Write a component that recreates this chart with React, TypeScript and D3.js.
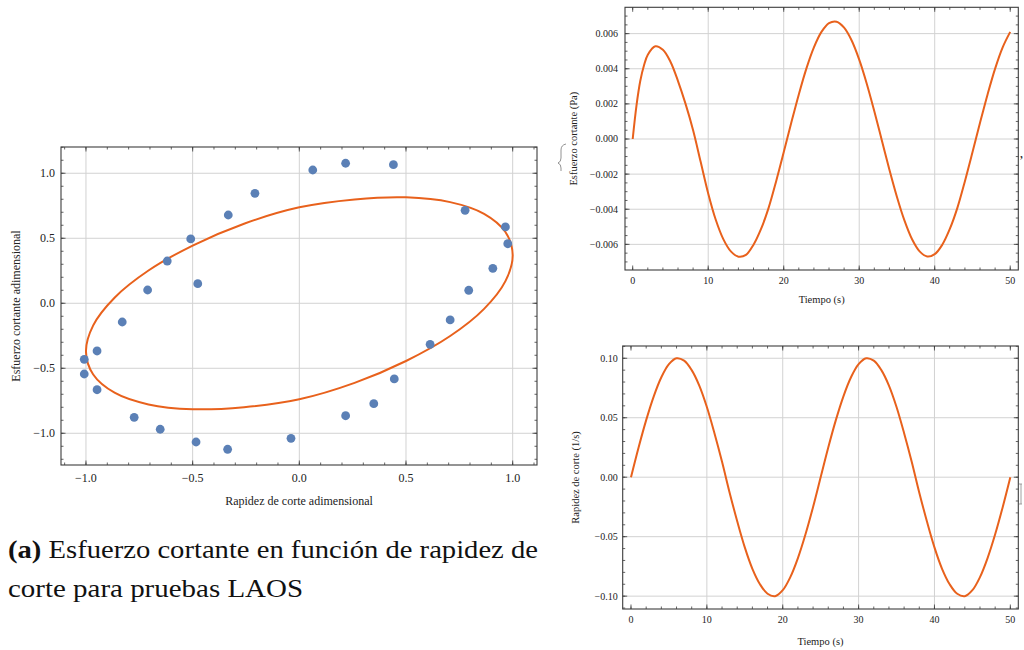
import React from 'react';
import * as d3 from 'd3';

// ---- left panel: normalised stress vs normalised shear rate ----
const dotX = [-1.008, -1.008, -0.948, -0.948, -0.830, -0.774, -0.711, -0.652, -0.619, -0.509, -0.484, -0.476, -0.336, -0.333, -0.208, -0.039, 0.063, 0.217, 0.217, 0.349, 0.441, 0.445, 0.613, 0.707, 0.777, 0.794, 0.907, 0.966, 0.977];
const dotY = [-0.431, -0.544, -0.367, -0.665, -0.144, -0.877, 0.102, -0.969, 0.325, 0.495, -1.067, 0.151, -1.123, 0.679, 0.846, -1.039, 1.025, 1.077, -0.865, -0.772, 1.066, -0.582, -0.316, -0.128, 0.715, 0.100, 0.269, 0.587, 0.458];

// closed orange loop, points read around the curve
const loopX = [1.0, 0.966, 0.866, 0.707, 0.5, 0.259, 0.0, -0.259, -0.5, -0.707, -0.866, -0.966, -1.0, -0.966, -0.866, -0.707, -0.5, -0.259, 0.0, 0.259, 0.5, 0.707, 0.866, 0.966];
const loopY = [0.372, 0.548, 0.688, 0.778, 0.815, 0.799, 0.738, 0.612, 0.444, 0.252, 0.043, -0.17, -0.372, -0.548, -0.688, -0.778, -0.815, -0.799, -0.738, -0.612, -0.444, -0.252, -0.043, 0.17];

const leftXTicks = [-1, -0.5, 0, 0.5, 1];
const leftYTicks = [-1, -0.5, 0, 0.5, 1];

// ---- right panels: time series ----
const stressT = [0, 0.5, 1, 1.5, 2, 3, 4, 5, 6, 7, 8, 9, 10, 11, 12, 13, 14, 15, 16, 17, 18, 19, 20, 21, 22, 23, 24, 25, 26, 27, 28, 29, 30, 31, 32, 33, 34, 35, 36, 37, 38, 39, 40, 41, 42, 43, 44, 45, 46, 47, 48, 49, 50];
const stressPa = [0, 0.0019, 0.0033, 0.0042, 0.0048, 0.00528, 0.00508, 0.0044, 0.0033, 0.0020, 0.0005, -0.0013, -0.0031, -0.0046, -0.0057, -0.0064, -0.0067, -0.0066, -0.00602, -0.00512, -0.00392, -0.0024, -0.00076, 0.00092, 0.00254, 0.00401, 0.00522, 0.0061, 0.0066, 0.00668, 0.00634, 0.00561, 0.00452, 0.00315, 0.00158, -0.00008, -0.00175, -0.0033, -0.00465, -0.00571, -0.0064, -0.00669, -0.00656, -0.00602, -0.00512, -0.00392, -0.0024, -0.00076, 0.00092, 0.00254, 0.00401, 0.00522, 0.0061];

const rateT = [0, 1, 2, 3, 4, 5, 6, 7, 8, 9, 10, 11, 12, 13, 14, 15, 16, 17, 18, 19, 20, 21, 22, 23, 24, 25, 26, 27, 28, 29, 30, 31, 32, 33, 34, 35, 36, 37, 38, 39, 40, 41, 42, 43, 44, 45, 46, 47, 48, 49, 50];
const shearRate = [0, 0.025, 0.048, 0.068, 0.084, 0.095, 0.100, 0.098, 0.090, 0.077, 0.059, 0.037, 0.013, -0.013, -0.037, -0.059, -0.077, -0.090, -0.098, -0.100, -0.095, -0.084, -0.068, -0.048, -0.025, 0, 0.025, 0.048, 0.068, 0.084, 0.095, 0.100, 0.098, 0.090, 0.077, 0.059, 0.037, 0.013, -0.013, -0.037, -0.059, -0.077, -0.090, -0.098, -0.100, -0.095, -0.084, -0.068, -0.048, -0.025, 0];

const timeTicks = [0, 10, 20, 30, 40, 50];
const timeGrid = [10, 20, 30, 40];
const stressTicks = [-0.006, -0.004, -0.002, 0, 0.002, 0.004, 0.006];
const rateTicks = [-0.1, -0.05, 0, 0.05, 0.1];

const SERIF = '"Liberation Serif", "Times New Roman", serif';
const ORANGE = '#e8611c';
const BLUE = '#5b80b6';
const FRAME = '#3c3c3c';
const GRID = '#d2d2d2';

const minus = (s: string) => s.replace('-', '\u2212');

type Scale = d3.ScaleLinear<number, number>;

function Frame(props: {
  x: Scale; y: Scale;
  xTicks: number[]; yTicks: number[];
  xGrid: number[]; yGrid: number[];
  xMinor: number[]; yMinor: number[];
  xFmt: (v: number) => string; yFmt: (v: number) => string;
  fontSize: number; titleSize: number;
  xTitle: string; yTitle: string;
  xLabelDy: number; xTitleDy: number; yTitleX: number; yLabelGap: number;
  children?: React.ReactNode;
}) {
  const { x, y } = props;
  const [x0, x1] = x.range();
  const [y0, y1] = y.range(); // y0 bottom, y1 top
  const maj = 4.5, mnr = 2.5;
  return (
    <g fontFamily={SERIF} fill="#222">
      {props.xGrid.map(v => (
        <line key={'gx' + v} x1={x(v)} x2={x(v)} y1={y1} y2={y0} stroke={GRID} strokeWidth={1} />
      ))}
      {props.yGrid.map(v => (
        <line key={'gy' + v} x1={x0} x2={x1} y1={y(v)} y2={y(v)} stroke={GRID} strokeWidth={1} />
      ))}
      {props.children}
      <rect x={x0} y={y1} width={x1 - x0} height={y0 - y1} fill="none" stroke={FRAME} strokeWidth={1.1} />
      <g stroke={FRAME} strokeWidth={0.8}>
        {props.xMinor.map((v, i) => (
          <g key={'xm' + i}>
            <line x1={x(v)} x2={x(v)} y1={y0} y2={y0 - mnr} />
            <line x1={x(v)} x2={x(v)} y1={y1} y2={y1 + mnr} />
          </g>
        ))}
        {props.xTicks.map((v, i) => (
          <g key={'xt' + i}>
            <line x1={x(v)} x2={x(v)} y1={y0} y2={y0 - maj} />
            <line x1={x(v)} x2={x(v)} y1={y1} y2={y1 + maj} />
          </g>
        ))}
        {props.yMinor.map((v, i) => (
          <g key={'ym' + i}>
            <line x1={x0} x2={x0 + mnr} y1={y(v)} y2={y(v)} />
            <line x1={x1} x2={x1 - mnr} y1={y(v)} y2={y(v)} />
          </g>
        ))}
        {props.yTicks.map((v, i) => (
          <g key={'yt' + i}>
            <line x1={x0} x2={x0 + maj} y1={y(v)} y2={y(v)} />
            <line x1={x1} x2={x1 - maj} y1={y(v)} y2={y(v)} />
          </g>
        ))}
      </g>
      {props.xTicks.map((v, i) => (
        <text key={'xl' + i} x={x(v)} y={y0 + props.xLabelDy} fontSize={props.fontSize} textAnchor="middle">
          {props.xFmt(v)}
        </text>
      ))}
      {props.yTicks.map((v, i) => (
        <text key={'yl' + i} x={x0 - props.yLabelGap} y={y(v)} dy="0.34em" fontSize={props.fontSize} textAnchor="end">
          {props.yFmt(v)}
        </text>
      ))}
      <text x={(x0 + x1) / 2} y={y0 + props.xTitleDy} fontSize={props.titleSize} textAnchor="middle">
        {props.xTitle}
      </text>
      <text
        transform={`translate(${props.yTitleX},${(y0 + y1) / 2}) rotate(-90)`}
        fontSize={props.titleSize}
        textAnchor="middle"
      >
        {props.yTitle}
      </text>
    </g>
  );
}

export default function App() {
  // left panel scales
  const lx = d3.scaleLinear().domain([-1.117, 1.114]).range([61, 537]);
  const ly = d3.scaleLinear().domain([-1.244, 1.202]).range([465, 147]);
  const loopPts = loopX.map((v, i) => [v, loopY[i]] as [number, number]);
  const loop = d3.line<[number, number]>()
    .x(d => lx(d[0]))
    .y(d => ly(d[1]))
    .curve(d3.curveCatmullRomClosed.alpha(0.5))(loopPts);

  // top right
  const tx = d3.scaleLinear().domain([-1.02, 51.07]).range([625, 1018.3]);
  const ty = d3.scaleLinear().domain([-0.00746, 0.0075]).range([270, 7.3]);
  const stressLine = d3.line<number>()
    .x((_, i) => tx(stressT[i]))
    .y(d => ty(d))
    .curve(d3.curveCatmullRom.alpha(0.5))(stressPa);

  // bottom right
  const bx = d3.scaleLinear().domain([-1.094, 51.05]).range([622.7, 1018.3]);
  const by = d3.scaleLinear().domain([-0.1108, 0.1103]).range([609, 346]);
  const rateLine = d3.line<number>()
    .x((_, i) => bx(rateT[i]))
    .y(d => by(d))
    .curve(d3.curveCatmullRom.alpha(0.5))(shearRate);

  const lMinorX = d3.range(-11, 12).map(k => k / 10);
  const lMinorY = d3.range(-12, 13).map(k => k / 10);
  const tMinor = d3.range(0, 51, 2);
  const sMinor = d3.range(-14, 15).map(k => k * 0.0005);
  const rMinor = d3.range(-11, 12).map(k => k * 0.01);

  return (
    <svg width={1024} height={650} style={{ position: 'absolute', left: 0, top: 0, background: '#fff' }}>
      <Frame
        x={lx} y={ly}
        xTicks={leftXTicks} yTicks={leftYTicks}
        xGrid={leftXTicks} yGrid={leftYTicks}
        xMinor={lMinorX} yMinor={lMinorY}
        xFmt={v => minus(d3.format('.1f')(v))} yFmt={v => minus(d3.format('.1f')(v))}
        fontSize={12} titleSize={12}
        xTitle="Rapidez de corte adimensional" yTitle="Esfuerzo cortante adimensional"
        xLabelDy={17} xTitleDy={40} yTitleX={20} yLabelGap={6}
      >
        <path d={loop || ''} fill="none" stroke={ORANGE} strokeWidth={2} />
        {dotX.map((v, i) => (
          <circle key={i} cx={lx(v)} cy={ly(dotY[i])} r={4.4} fill={BLUE} />
        ))}
      </Frame>

      <Frame
        x={tx} y={ty}
        xTicks={timeTicks} yTicks={stressTicks}
        xGrid={timeGrid} yGrid={stressTicks}
        xMinor={tMinor} yMinor={sMinor}
        xFmt={v => String(v)} yFmt={v => minus(d3.format('.3f')(v))}
        fontSize={10} titleSize={10.5}
        xTitle="Tiempo (s)" yTitle="Esfuerzo cortante (Pa)"
        xLabelDy={14} xTitleDy={33} yTitleX={577} yLabelGap={7}
      >
        <path d={stressLine || ''} fill="none" stroke={ORANGE} strokeWidth={2} />
      </Frame>

      <Frame
        x={bx} y={by}
        xTicks={timeTicks} yTicks={rateTicks}
        xGrid={timeGrid} yGrid={rateTicks}
        xMinor={tMinor} yMinor={rMinor}
        xFmt={v => String(v)} yFmt={v => minus(d3.format('.2f')(v))}
        fontSize={10} titleSize={10.5}
        xTitle="Tiempo (s)" yTitle="Rapidez de corte (1/s)"
        xLabelDy={14} xTitleDy={36} yTitleX={579} yLabelGap={5}
      >
        <path d={rateLine || ''} fill="none" stroke={ORANGE} strokeWidth={2} />
      </Frame>

      {/* clipped neighbours at the page edges */}
      <path d="M566,144 q-5,1 -5,6 v8 q0,4 -3,5 q3,1 3,5 v3" fill="none" stroke="#777" strokeWidth={0.8} />
      <text x={1019} y={166} fontFamily={SERIF} fontSize={14} fill="#222">{'\u2019'}</text>
      <path d="M1019,484 h3 M1021,484 v20 M1019,504 h3" fill="none" stroke="#888" strokeWidth={0.8} />

      <g fontFamily={SERIF} fill="#111">
        <text x={8} y={558} fontSize={25} textLength={530} lengthAdjust="spacingAndGlyphs">
          <tspan fontWeight="bold">(a)</tspan> Esfuerzo cortante en función de rapidez de
        </text>
        <text x={8} y={597} fontSize={25} textLength={295} lengthAdjust="spacingAndGlyphs">
          corte para pruebas LAOS
        </text>
      </g>
    </svg>
  );
}
